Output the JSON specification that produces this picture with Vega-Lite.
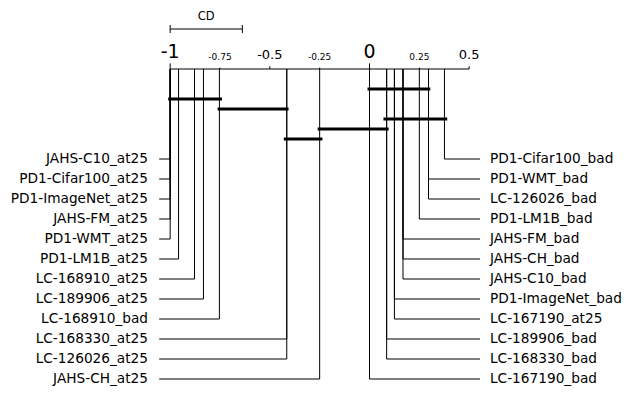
{
  "$schema": "https://vega.github.io/schema/vega-lite/v6.json",
  "width": 633,
  "height": 419,
  "padding": 0,
  "autosize": {"type": "none"},
  "background": "white",
  "config": {"view": {"stroke": null}, "font": "DejaVu Sans", "text": {"font": "DejaVu Sans"}},
  "datasets": {
    "methods": [
      {"name": "JAHS-C10_at25", "rank": -1.0, "side": "left", "row": 1},
      {"name": "PD1-Cifar100_at25", "rank": -1.0, "side": "left", "row": 2},
      {"name": "PD1-ImageNet_at25", "rank": -1.0, "side": "left", "row": 3},
      {"name": "JAHS-FM_at25", "rank": -1.0, "side": "left", "row": 4},
      {"name": "PD1-WMT_at25", "rank": -1.0, "side": "left", "row": 5},
      {"name": "PD1-LM1B_at25", "rank": -0.958, "side": "left", "row": 6},
      {"name": "LC-168910_at25", "rank": -0.878, "side": "left", "row": 7},
      {"name": "LC-189906_at25", "rank": -0.833, "side": "left", "row": 8},
      {"name": "LC-168910_bad", "rank": -0.753, "side": "left", "row": 9},
      {"name": "LC-168330_at25", "rank": -0.415, "side": "left", "row": 10},
      {"name": "LC-126026_at25", "rank": -0.415, "side": "left", "row": 11},
      {"name": "JAHS-CH_at25", "rank": -0.25, "side": "left", "row": 12},
      {"name": "PD1-Cifar100_bad", "rank": 0.376, "side": "right", "row": 1},
      {"name": "PD1-WMT_bad", "rank": 0.296, "side": "right", "row": 2},
      {"name": "LC-126026_bad", "rank": 0.296, "side": "right", "row": 3},
      {"name": "PD1-LM1B_bad", "rank": 0.25, "side": "right", "row": 4},
      {"name": "JAHS-FM_bad", "rank": 0.168, "side": "right", "row": 5},
      {"name": "JAHS-CH_bad", "rank": 0.168, "side": "right", "row": 6},
      {"name": "JAHS-C10_bad", "rank": 0.168, "side": "right", "row": 7},
      {"name": "PD1-ImageNet_bad", "rank": 0.125, "side": "right", "row": 8},
      {"name": "LC-167190_at25", "rank": 0.125, "side": "right", "row": 9},
      {"name": "LC-189906_bad", "rank": 0.086, "side": "right", "row": 10},
      {"name": "LC-168330_bad", "rank": 0.086, "side": "right", "row": 11},
      {"name": "LC-167190_bad", "rank": 0.0, "side": "right", "row": 12}
    ],
    "cliques": [
      {"start": -0.01, "end": 0.305, "row": -2.5},
      {"start": -1.01, "end": -0.74, "row": -2.0},
      {"start": -0.762, "end": -0.406, "row": -1.5},
      {"start": 0.07, "end": 0.39, "row": -1.0},
      {"start": -0.26, "end": 0.096, "row": -0.5},
      {"start": -0.43, "end": -0.236, "row": 0.0}
    ],
    "ticks": [
      {"v": -1.0, "label": "-1"},
      {"v": -0.75, "label": "-0.75"},
      {"v": -0.5, "label": "-0.5"},
      {"v": -0.25, "label": "-0.25"},
      {"v": 0.0, "label": "0"},
      {"v": 0.25, "label": "0.25"},
      {"v": 0.5, "label": "0.5"}
    ],
    "cd": [{"start": -1.0, "end": -0.638, "label": "CD"}]
  },
  "layer": [
    {
      "data": {"name": "methods"},
      "mark": {"type": "rule", "color": "black", "strokeWidth": 1},
      "encoding": {
        "x": {"field": "rank", "type": "quantitative", "scale": {"domain": [-1.8537, 1.3219], "nice": false, "zero": false}, "axis": null},
        "y": {"field": "row", "type": "quantitative", "scale": {"domain": [-6.95, 14.0], "nice": false, "zero": false, "reverse": true}, "axis": null},
        "y2": {"datum": -3.5}
      }
    },
    {
      "data": {"name": "methods"},
      "transform": [{"filter": "datum.side == 'left'"}],
      "mark": {"type": "rule", "color": "black", "strokeWidth": 1},
      "encoding": {
        "x": {"field": "rank", "type": "quantitative"},
        "x2": {"datum": -1.0552},
        "y": {"field": "row", "type": "quantitative"}
      }
    },
    {
      "data": {"name": "methods"},
      "transform": [{"filter": "datum.side == 'right'"}],
      "mark": {"type": "rule", "color": "black", "strokeWidth": 1},
      "encoding": {
        "x": {"field": "rank", "type": "quantitative"},
        "x2": {"datum": 0.5544},
        "y": {"field": "row", "type": "quantitative"}
      }
    },
    {
      "data": {"name": "methods"},
      "transform": [{"filter": "datum.side == 'left'"}],
      "mark": {"type": "text", "align": "right", "baseline": "middle", "fontSize": 13.7, "color": "black"},
      "encoding": {
        "x": {"datum": -1.111, "type": "quantitative"},
        "y": {"field": "row", "type": "quantitative"},
        "text": {"field": "name"}
      }
    },
    {
      "data": {"name": "methods"},
      "transform": [{"filter": "datum.side == 'right'"}],
      "mark": {"type": "text", "align": "left", "baseline": "middle", "fontSize": 13.7, "color": "black"},
      "encoding": {
        "x": {"datum": 0.6045, "type": "quantitative"},
        "y": {"field": "row", "type": "quantitative"},
        "text": {"field": "name"}
      }
    },
    {
      "data": {"name": "cd"},
      "mark": {"type": "rule", "color": "black", "strokeWidth": 1},
      "encoding": {
        "x": {"datum": -1.0, "type": "quantitative"},
        "x2": {"datum": 0.5},
        "y": {"datum": -3.5, "type": "quantitative"}
      }
    },
    {
      "data": {"name": "ticks"},
      "transform": [{"filter": "datum.v % 1 == 0"}],
      "mark": {"type": "rule", "color": "black", "strokeWidth": 1},
      "encoding": {
        "x": {"field": "v", "type": "quantitative"},
        "y": {"datum": -3.5, "type": "quantitative"},
        "y2": {"datum": -3.78}
      }
    },
    {
      "data": {"name": "ticks"},
      "transform": [{"filter": "datum.v % 0.5 == 0 && datum.v % 1 != 0"}],
      "mark": {"type": "rule", "color": "black", "strokeWidth": 1},
      "encoding": {
        "x": {"field": "v", "type": "quantitative"},
        "y": {"datum": -3.5, "type": "quantitative"},
        "y2": {"datum": -3.64}
      }
    },
    {
      "data": {"name": "ticks"},
      "transform": [{"filter": "datum.v % 0.5 != 0"}],
      "mark": {"type": "rule", "color": "black", "strokeWidth": 1},
      "encoding": {
        "x": {"field": "v", "type": "quantitative"},
        "y": {"datum": -3.5, "type": "quantitative"},
        "y2": {"datum": -3.57}
      }
    },
    {
      "data": {"name": "ticks"},
      "transform": [{"filter": "datum.v % 1 == 0"}],
      "mark": {"type": "text", "align": "center", "baseline": "bottom", "color": "black", "fontSize": 19},
      "encoding": {
        "x": {"field": "v", "type": "quantitative"},
        "y": {"datum": -3.84, "type": "quantitative"},
        "text": {"field": "label"}
      }
    },
    {
      "data": {"name": "ticks"},
      "transform": [{"filter": "datum.v % 0.5 == 0 && datum.v % 1 != 0"}],
      "mark": {"type": "text", "align": "center", "baseline": "bottom", "color": "black", "fontSize": 13},
      "encoding": {
        "x": {"field": "v", "type": "quantitative"},
        "y": {"datum": -3.84, "type": "quantitative"},
        "text": {"field": "label"}
      }
    },
    {
      "data": {"name": "ticks"},
      "transform": [{"filter": "datum.v % 0.5 != 0"}],
      "mark": {"type": "text", "align": "center", "baseline": "bottom", "color": "black", "fontSize": 9},
      "encoding": {
        "x": {"field": "v", "type": "quantitative"},
        "y": {"datum": -3.84, "type": "quantitative"},
        "text": {"field": "label"}
      }
    },
    {
      "data": {"name": "cliques"},
      "mark": {"type": "rule", "color": "black", "strokeWidth": 3, "strokeCap": "butt"},
      "encoding": {
        "x": {"field": "start", "type": "quantitative"},
        "x2": {"field": "end"},
        "y": {"field": "row", "type": "quantitative"}
      }
    },
    {
      "data": {"name": "cd"},
      "mark": {"type": "rule", "color": "black", "strokeWidth": 1},
      "encoding": {
        "x": {"field": "start", "type": "quantitative"},
        "x2": {"field": "end"},
        "y": {"datum": -5.5, "type": "quantitative"}
      }
    },
    {
      "data": {"name": "cd"},
      "mark": {"type": "rule", "color": "black", "strokeWidth": 1},
      "encoding": {
        "x": {"field": "start", "type": "quantitative"},
        "y": {"datum": -5.7, "type": "quantitative"},
        "y2": {"datum": -5.3}
      }
    },
    {
      "data": {"name": "cd"},
      "mark": {"type": "rule", "color": "black", "strokeWidth": 1},
      "encoding": {
        "x": {"field": "end", "type": "quantitative"},
        "y": {"datum": -5.7, "type": "quantitative"},
        "y2": {"datum": -5.3}
      }
    },
    {
      "data": {"name": "cd"},
      "mark": {"type": "text", "align": "center", "baseline": "middle", "fontSize": 11.5, "color": "black"},
      "encoding": {
        "x": {"datum": -0.819, "type": "quantitative"},
        "y": {"datum": -6.08, "type": "quantitative"},
        "text": {"field": "label"}
      }
    }
  ]
}
